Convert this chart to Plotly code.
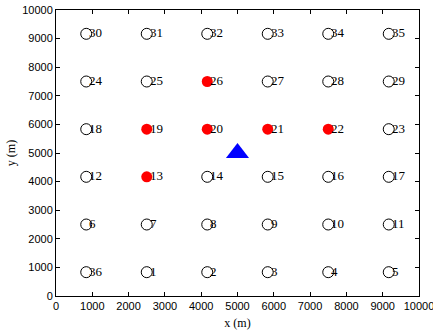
import plotly.graph_objects as go

grid = [833, 2500, 4167, 5833, 7500, 9167]
labels_rows = [
    [36, 1, 2, 3, 4, 5],
    [6, 7, 8, 9, 10, 11],
    [12, 13, 14, 15, 16, 17],
    [18, 19, 20, 21, 22, 23],
    [24, 25, 26, 27, 28, 29],
    [30, 31, 32, 33, 34, 35],
]
red_ids = [13, 19, 20, 21, 22, 26]
bs_x = [5000]
bs_y = [5000]
ticks = list(range(0, 10001, 1000))
tick_text = [str(t) for t in ticks]

ox, oy, rx, ry = [], [], [], []
ax_all, ay_all, at_all = [], [], []
for r, yv in enumerate(grid):
    for c, xv in enumerate(grid):
        lab = labels_rows[r][c]
        ax_all.append(xv); ay_all.append(yv); at_all.append(str(lab))
        if lab in red_ids:
            rx.append(xv); ry.append(yv)
        else:
            ox.append(xv); oy.append(yv)

fig = go.Figure()
fig.add_trace(go.Scatter(x=ox, y=oy, mode="markers",
                         marker=dict(symbol="circle-open", size=11, color="black", line=dict(width=1, color="black")),
                         showlegend=False, hoverinfo="skip"))
fig.add_trace(go.Scatter(x=rx, y=ry, mode="markers",
                         marker=dict(symbol="circle", size=11, color="#ff0000"),
                         showlegend=False, hoverinfo="skip"))
fig.add_trace(go.Scatter(x=bs_x, y=bs_y, mode="markers",
                         marker=dict(symbol="triangle-up", size=20, color="#0000ff"),
                         showlegend=False, hoverinfo="skip"))
for xv, yv, t in zip(ax_all, ay_all, at_all):
    fig.add_annotation(x=xv, y=yv, text=t, showarrow=False, xanchor="left", yanchor="middle",
                       xshift=1, yshift=1,
                       font=dict(family="Liberation Serif", size=13, color="black"))

axis_common = dict(range=[0, 10000], tickvals=ticks, ticktext=tick_text, ticks="inside", ticklen=4, tickwidth=1,
                   tickcolor="black", showline=True, linecolor="black", linewidth=1, mirror="ticks",
                   showgrid=False, zeroline=False, ticklabeloverflow="allow",
                   tickfont=dict(family="Liberation Sans", size=11, color="black"))
fig.update_xaxes(**axis_common, title=dict(text="x (m)", font=dict(family="Liberation Serif", size=12, color="black"), standoff=7))
fig.update_yaxes(**axis_common, title=dict(text="y (m)", font=dict(family="Liberation Serif", size=12, color="black"), standoff=4))
fig.update_layout(width=433, height=330, margin=dict(l=56, r=14, t=10, b=34, autoexpand=False),
                  paper_bgcolor="white", plot_bgcolor="white")
fig.write_html("out.html")
